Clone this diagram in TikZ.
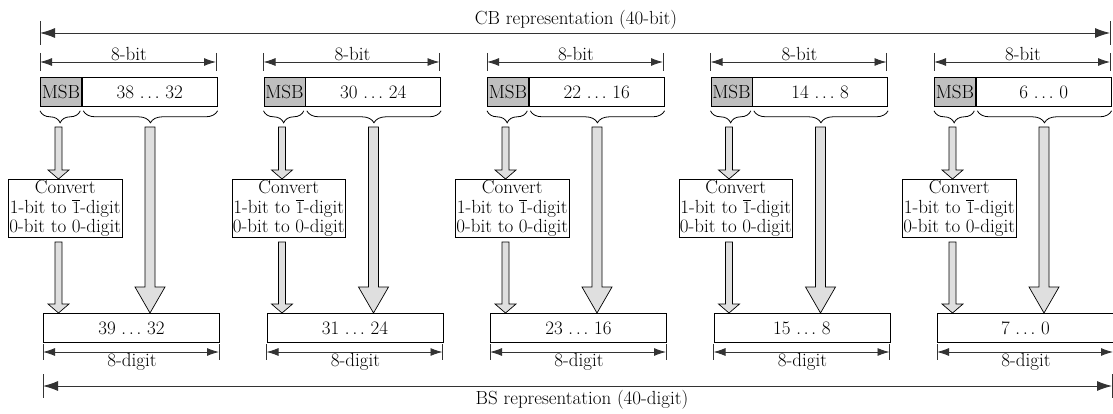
\documentclass[tikz,border=0pt]{standalone}
\usetikzlibrary{arrows.meta,decorations.pathreplacing,calc}
\newcommand\blockarr[6]{%
  \path[#1] let \p1=(#2), \p2=(#3) in
    ({\x1-#4},\y1) -- ({\x1-#4},{\y2+#6}) -- ({\x1-#5},{\y2+#6}) -- (\x1,\y2)
    -- ({\x1+#5},{\y2+#6}) -- ({\x1+#4},{\y2+#6}) -- ({\x1+#4},\y1) -- cycle;}
\begin{document}
\begin{tikzpicture}[x=1pt,y=-1pt,
  font=\fontsize{19}{19.5}\selectfont,
  box/.style={draw,line width=0.8pt,inner sep=0pt,minimum height=29pt,anchor=north west},
  msbbox/.style={box,fill=gray!50,minimum width=41pt},
  numbox/.style={box,minimum width=135pt},
  outbox/.style={box,minimum width=176pt},
  convbox/.style={draw,line width=0.8pt,align=center,inner sep=1pt,anchor=north west},
  dimline/.style={line width=0.9pt,draw=black!80,{Latex[length=12pt,width=8pt]}-{Latex[length=12pt,width=8pt]}},
  bigdim/.style={line width=0.9pt,draw=black!80,{Latex[length=15pt,width=10pt]}-{Latex[length=15pt,width=10pt]}},
  tick/.style={line width=0.8pt,draw=black!80},
  bracestyle/.style={decorate,decoration={brace,mirror,amplitude=12pt},line width=0.8pt},
  blockstyle/.style={draw,line width=0.7pt,fill=gray!25},
  lab/.style={anchor=base,inner sep=0pt}
]
\useasboundingbox (0,0) rectangle (1113,414);

% overall CB dimension
\coordinate (cbL) at (40,33);
\coordinate (cbR) at (1110,33);
\draw[bigdim] (cbL) -- (cbR);
\draw[tick] ([yshift=12pt]cbL) -- ([yshift=-12pt]cbL);
\draw[tick] ([yshift=12pt]cbR) -- ([yshift=-12pt]cbR);
\node[lab] (cblab) at (576,24.5) {CB representation (40-bit)};

% overall BS dimension
\coordinate (bsL) at (43,386);
\coordinate (bsR) at (1112,386);
\draw[bigdim] (bsL) -- (bsR);
\draw[tick] ([yshift=12pt]bsL) -- ([yshift=-12pt]bsL);
\draw[tick] ([yshift=12pt]bsR) -- ([yshift=-12pt]bsR);
\node[lab] (bslab) at (582,404.5) {BS representation (40-digit)};

\foreach \i/\topt/\bott in {0/{38 $\ldots$ 32}/{39 $\ldots$ 32},
                            1/{30 $\ldots$ 24}/{31 $\ldots$ 24},
                            2/{22 $\ldots$ 16}/{23 $\ldots$ 16},
                            3/{14 $\ldots$ 8}/{15 $\ldots$ 8},
                            4/{6 $\ldots$ 0}/{7 $\ldots$ 0}}{
  \pgfmathsetmacro\dx{223.5*\i}
  % top boxes
  \node[msbbox] (msb\i) at (40+\dx,77) {MSB};
  \node[numbox] (num\i) at (msb\i.north east) {\topt};
  % 8-bit dimension
  \coordinate (dl\i) at (40+\dx,62);
  \coordinate (dr\i) at (216+\dx,62);
  \draw[dimline] (dl\i) -- (dr\i);
  \draw[tick] ([yshift=9pt]dl\i) -- ([yshift=-9pt]dl\i);
  \draw[tick] ([yshift=9pt]dr\i) -- ([yshift=-9pt]dr\i);
  \node[lab] (bitlab\i) at (129+\dx,61) {8-bit};
  % braces
  \draw[bracestyle] ([yshift=-4pt]msb\i.south west) -- ([xshift=-1.5pt,yshift=-4pt]msb\i.south east);
  \draw[bracestyle] ([xshift=1.5pt,yshift=-4pt]num\i.south west) -- ([yshift=-4pt]num\i.south east);
  % convert box
  \node[convbox] (conv\i) at (8+\dx,179) {Convert\\1-bit to $\overline{1}$-digit\\0-bit to 0-digit};
  % output box
  \node[outbox] (out\i) at (43+\dx,313) {\bott};
  % 8-digit dimension
  \coordinate (el\i) at (43+\dx,352);
  \coordinate (er\i) at (219+\dx,352);
  \draw[dimline] (el\i) -- (er\i);
  \draw[tick] ([yshift=8pt]el\i) -- ([yshift=-8pt]el\i);
  \draw[tick] ([yshift=8pt]er\i) -- ([yshift=-8pt]er\i);
  \node[lab] (diglab\i) at (132+\dx,366) {8-digit};
  % block arrows
  \coordinate (ta\i) at (58.5+\dx,127);
  \coordinate (tb\i) at (150+\dx,127);
  \coordinate (tc\i) at (58.5+\dx,242);
  \blockarr{blockstyle}{ta\i}{conv\i.north -| ta\i}{3.5pt}{10.5pt}{9pt}
  \blockarr{blockstyle}{tc\i}{out\i.north -| tc\i}{3.5pt}{10.5pt}{9pt}
  \blockarr{blockstyle}{tb\i}{out\i.north -| tb\i}{5pt}{15pt}{26pt}
}
\end{tikzpicture}
\end{document}
